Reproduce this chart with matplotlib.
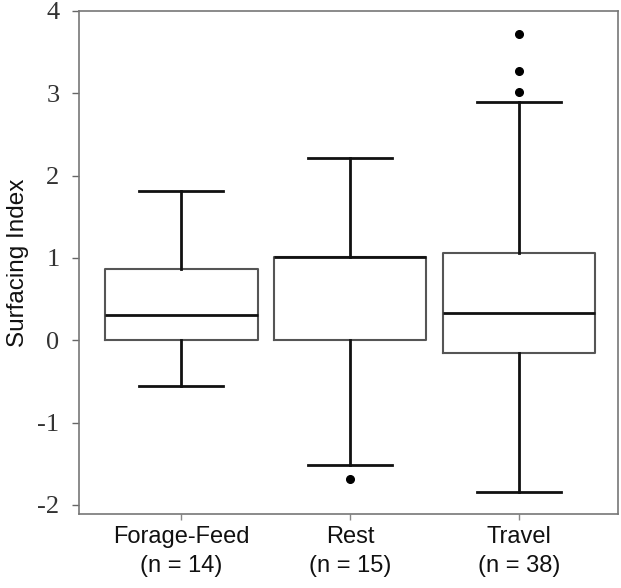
import matplotlib
matplotlib.use("Agg")
import matplotlib.pyplot as plt

categories = ["Forage-Feed", "Rest", "Travel"]
n_counts = [14, 15, 38]
whislo = [-0.56, -1.51, -1.84]
q1 = [0.00, 0.00, -0.16]
median = [0.31, 1.01, 0.33]
q3 = [0.86, 1.01, 1.06]
whishi = [1.81, 2.21, 2.90]
outliers = [[], [-1.68], [3.01, 3.27, 3.72]]
yticks = [-2, -1, 0, 1, 2, 3, 4]

stats = []
for i, c in enumerate(categories):
    stats.append(dict(label=f"{c}\n(n = {n_counts[i]})", whislo=whislo[i], q1=q1[i],
                      med=median[i], q3=q3[i], whishi=whishi[i], fliers=outliers[i]))

fig = plt.figure(figsize=(6.21, 5.88), dpi=100)
ax = fig.add_axes([0.1272, 0.1259, 0.8680, 0.8554])

ax.bxp(stats, positions=[1, 2, 3], widths=0.905, showfliers=True,
       boxprops=dict(color="#555555", linewidth=1.5),
       medianprops=dict(color="#111111", linewidth=2.0),
       whiskerprops=dict(color="#111111", linewidth=2.0),
       capprops=dict(color="#111111", linewidth=2.0),
       flierprops=dict(marker="o", markerfacecolor="black", markeredgecolor="black",
                       markersize=5.5, linestyle="none"),
       capwidths=0.5)

ax.set_xlim(0.396, 3.586)
ax.set_ylim(-2.11, 3.97)
ax.set_yticks(yticks)
ax.set_yticklabels([str(v) for v in yticks], family="Liberation Serif", fontsize=19, color="#333333")
for lab in ax.get_xticklabels():
    lab.set_family("Liberation Sans")
    lab.set_fontsize(17)
    lab.set_color("#111111")
    lab.set_linespacing(1.4)
    lab.set_transform(lab.get_transform())

ax.tick_params(axis="y", direction="out", length=5, width=1, color="#666666", pad=9)
ax.tick_params(axis="x", direction="out", length=4, width=1, color="#888888", pad=5)
for s in ax.spines.values():
    s.set_color("#777777")
    s.set_linewidth(1.2)

ax.set_ylabel("Surfacing Index", family="Liberation Sans", fontsize=17.5, color="#111111", labelpad=6)

fig.savefig("out.png", dpi=100)
